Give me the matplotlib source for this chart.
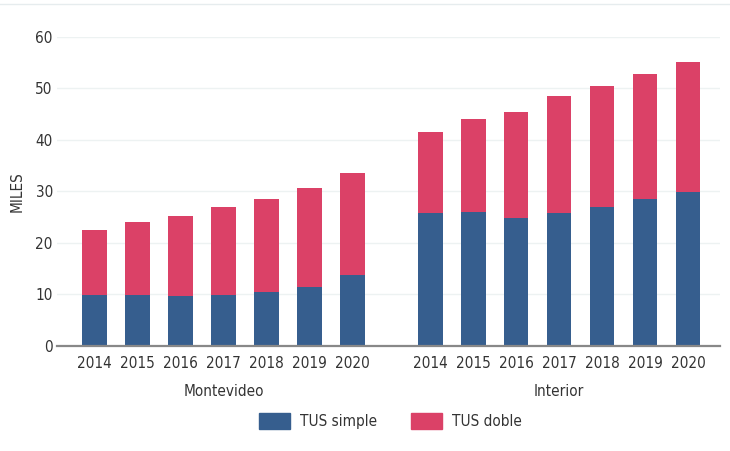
import matplotlib.pyplot as plt
from matplotlib.lines import Line2D
from matplotlib.transforms import blended_transform_factory

years = ["2014", "2015", "2016", "2017", "2018", "2019", "2020"]
groups = ["Montevideo", "Interior"]
mvd_simple = [9.8, 9.9, 9.6, 9.9, 10.5, 11.5, 13.7]
mvd_total = [22.6, 24.0, 25.2, 27.0, 28.5, 30.7, 33.6]
int_simple = [25.8, 26.0, 24.9, 25.8, 27.0, 28.5, 29.8]
int_total = [41.5, 44.1, 45.5, 48.5, 50.4, 52.9, 55.1]

blue = "#365E8E"
pink = "#DB4167"
txt = "#333333"

plt.rcParams["font.family"] = ["DejaVu Sans"]
plt.rcParams["font.stretch"] = "condensed"

fig = plt.figure(figsize=(7.3, 4.51), dpi=100)
ax = fig.add_axes([0.078, 0.233, 0.908, 0.685])

offset = 7.8
x_mvd = list(range(len(years)))
x_int = [i + offset for i in x_mvd]
w = 0.58

for xs, simple, total in [(x_mvd, mvd_simple, mvd_total), (x_int, int_simple, int_total)]:
    doble = [t - s for t, s in zip(total, simple)]
    ax.bar(xs, simple, width=w, color=blue, zorder=3)
    ax.bar(xs, doble, width=w, bottom=simple, color=pink, zorder=3)

ax.set_xlim(-0.88, 6 + offset + 0.74)
ax.set_ylim(0, 60)
ax.set_yticks(range(0, 61, 10))
ax.set_xticks(x_mvd + x_int)
ax.set_xticklabels(years + years)
ax.tick_params(axis="both", length=0, labelsize=11, colors=txt)
ax.tick_params(axis="x", pad=7)
ax.tick_params(axis="y", pad=3)
ax.grid(axis="y", color="#EDF2F2", linewidth=1, zorder=0)
for s in ["left", "right", "top"]:
    ax.spines[s].set_visible(False)
ax.spines["bottom"].set_color("#888888")
ax.spines["bottom"].set_linewidth(1.6)
ax.spines["bottom"].set_zorder(4)

ax.set_ylabel("MILES", fontsize=11, color=txt, labelpad=8)

trans = blended_transform_factory(ax.transData, fig.transFigure)
ax.text(sum(x_mvd) / len(x_mvd), 1 - 392 / 451, groups[0], transform=trans,
        ha="center", va="center", fontsize=11, color=txt)
ax.text(sum(x_int) / len(x_int), 1 - 392 / 451, groups[1], transform=trans,
        ha="center", va="center", fontsize=11, color=txt)

handles = [plt.Rectangle((0, 0), 1, 1, color=blue), plt.Rectangle((0, 0), 1, 1, color=pink)]
fig.legend(handles, ["TUS simple", "TUS doble"], loc="center", ncol=2,
           bbox_to_anchor=(0.535, 1 - 421 / 451), frameon=False, fontsize=11,
           handlelength=2.0, handleheight=1.2, columnspacing=2.2, handletextpad=0.7,
           labelcolor=txt)

fig.add_artist(Line2D([0, 1], [1 - 4 / 451, 1 - 4 / 451], color="#E6ECEE", linewidth=1))

fig.savefig("out.png", dpi=100)
